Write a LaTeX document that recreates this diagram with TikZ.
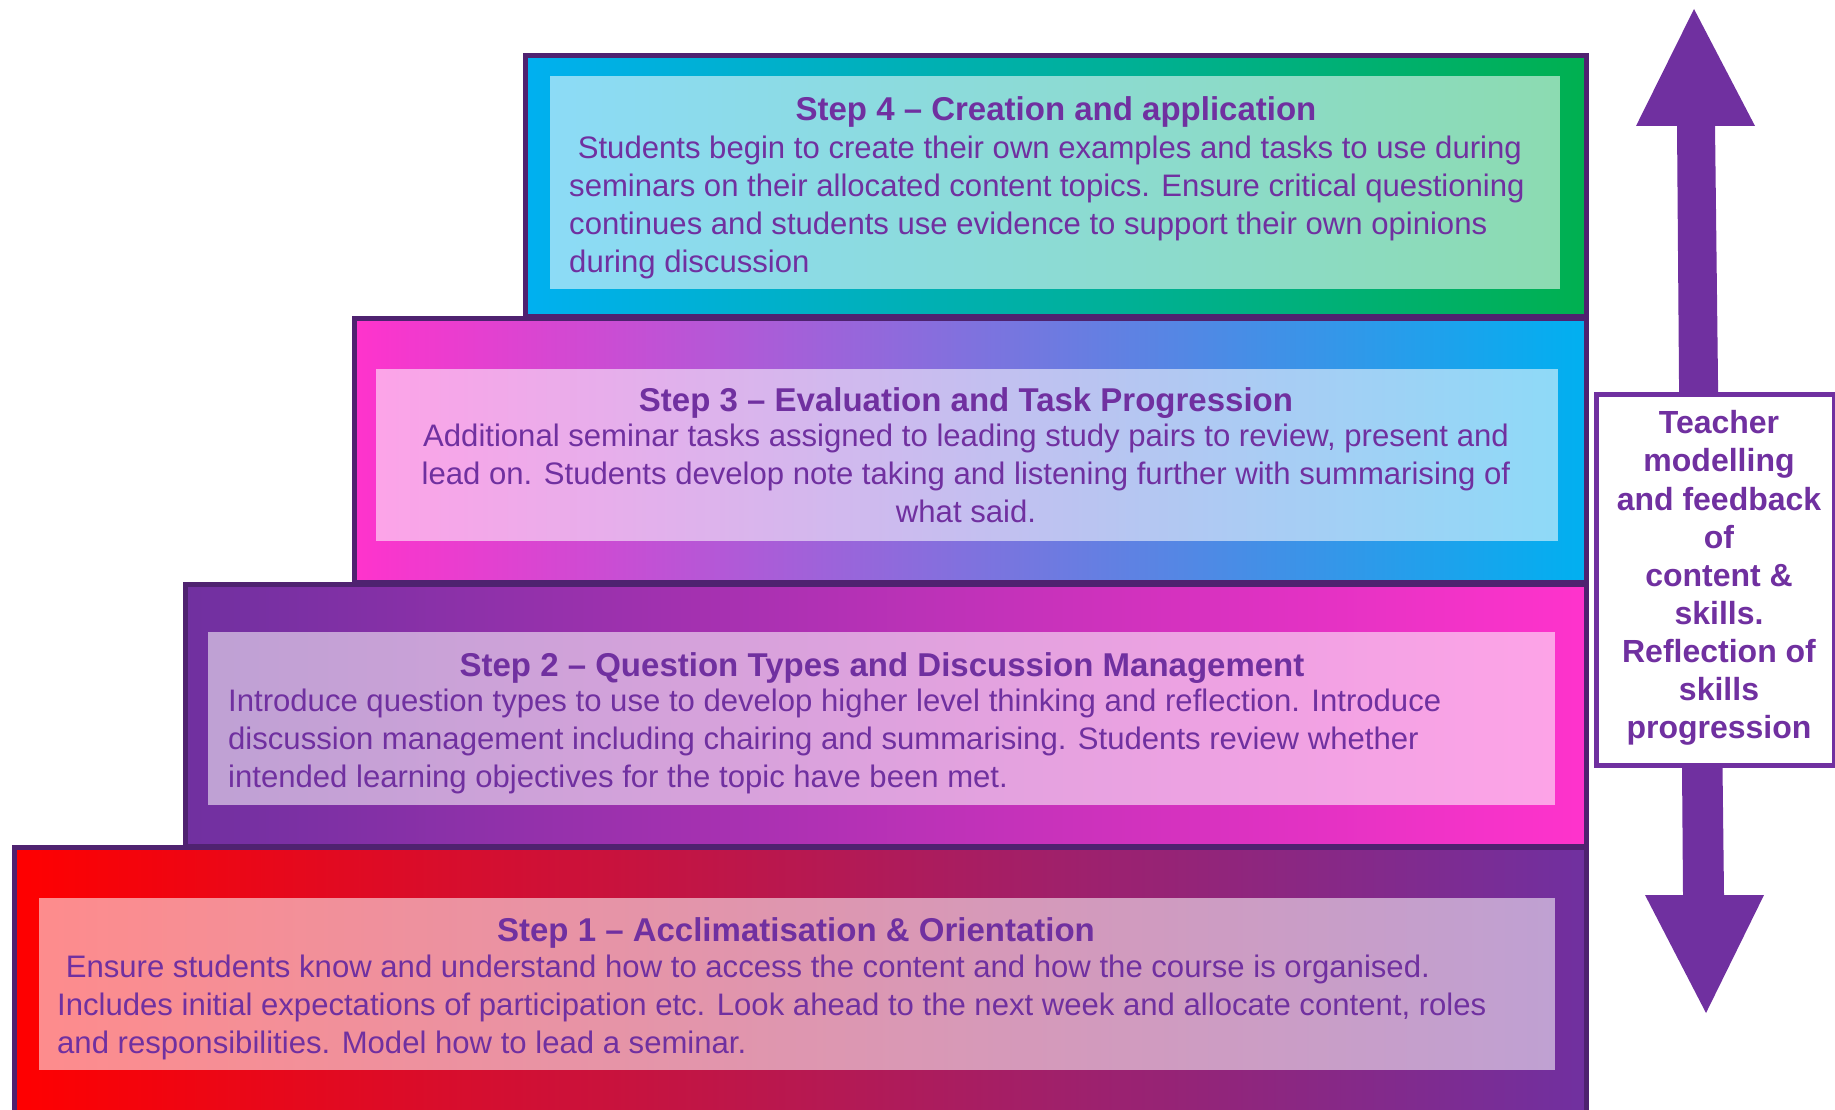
\documentclass[tikz,border=0pt]{standalone}
\usepackage{fontspec}
\setmainfont{Liberation Sans}
\usetikzlibrary{positioning}

\definecolor{stepviolet}{HTML}{7030A0}
\definecolor{stepedge}{HTML}{4F2270}
\definecolor{stepred}{HTML}{FF0000}
\definecolor{steppink}{HTML}{FF33CC}
\definecolor{stepcyan}{HTML}{00B0F0}
\definecolor{stepgreen}{HTML}{00B050}

\begin{document}
\begin{tikzpicture}[x=1pt, y=-1pt,
    stepbox/.style  = {rectangle, draw=stepedge, line width=5pt, inner sep=0, anchor=north west},
    glassbox/.style = {rectangle, fill=white, fill opacity=0.55, inner sep=0, anchor=north west},
    steptitle/.style = {inner sep=0, text=stepviolet, font=\fontsize{33}{38}\selectfont\bfseries},
    stepbody/.style  = {inner sep=0, text=stepviolet, align=left, font=\fontsize{31.1}{38}\selectfont},
    notebox/.style  = {rectangle, draw=stepviolet, fill=white, line width=5pt, inner sep=0,
                       anchor=north west},
    notetext/.style = {inner sep=0, align=center, text=stepviolet,
                       font=\fontsize{32}{38.1}\selectfont\bfseries}
  ]
    \clip (0,0) rectangle (1835,1110);

    % the steps, bottom one first
    \node[stepbox, left color=stepred, right color=stepviolet,
          minimum width=1572, minimum height=275] (s1) at (12,845) {};
    \node[stepbox, left color=stepviolet, right color=steppink,
          minimum width=1401, minimum height=262] (s2) at (183,582) {};
    \node[stepbox, left color=steppink, right color=stepcyan,
          minimum width=1232, minimum height=264] (s3) at (352,316) {};
    \node[stepbox, left color=stepcyan, right color=stepgreen,
          minimum width=1061, minimum height=261] (s4) at (523,53) {};

    \node[glassbox, minimum width=1516, minimum height=172] (i1) at (39,898) {};
    \node[glassbox, minimum width=1347, minimum height=173] (i2) at (208,632) {};
    \node[glassbox, minimum width=1182, minimum height=172] (i3) at (376,369) {};
    \node[glassbox, minimum width=1010, minimum height=213] (i4) at (550,76) {};

    % step 4
    \node[steptitle] (t4) at (1056,112) {Step 4 – Creation and application};
    \node[stepbody, anchor=north west] (b4) at (569,136)
      {\ Students begin to create their own examples and tasks to use during\\
       seminars on their allocated content topics. Ensure critical questioning\\
       continues and students use evidence to support their own opinions\\
       during discussion};

    % step 3
    \node[steptitle] (t3) at (966,403) {Step 3 – Evaluation and Task Progression};
    \node[stepbody, align=center, anchor=north] (b3) at (966,424)
      {Additional seminar tasks assigned to leading study pairs to review, present and\\
       lead on. Students develop note taking and listening further with summarising of\\
       what said.};

    % step 2
    \node[steptitle] (t2) at (882,668) {Step 2 – Question Types and Discussion Management};
    \node[stepbody, anchor=north west] (b2) at (228,689)
      {Introduce question types to use to develop higher level thinking and reflection. Introduce\\
       discussion management including chairing and summarising. Students review whether\\
       intended learning objectives for the topic have been met.};

    % step 1
    \node[steptitle] (t1) at (796,933) {Step 1 – Acclimatisation \& Orientation};
    \node[stepbody, anchor=north west] (b1) at (57,955)
      {\ Ensure students know and understand how to access the content and how the course is organised.\\
       Includes initial expectations of participation etc. Look ahead to the next week and allocate content, roles\\
       and responsibilities. Model how to lead a seminar.};

    % double arrow with the note on top
    \fill[stepviolet] (1694,9) -- (1755,126) -- (1715,126) -- (1724,895) -- (1764,895)
      -- (1706,1013) -- (1645,895) -- (1683,895) -- (1677,126) -- (1636,126) -- cycle;
    \node[notebox, minimum width=238, minimum height=371] (fb) at (1594,392) {};
    \node[notetext] (fbt) at (1719,578)
      {Teacher\\modelling\\and feedback\\of\\content \&\\skills.\\Reflection of\\skills\\progression};
\end{tikzpicture}
\end{document}
